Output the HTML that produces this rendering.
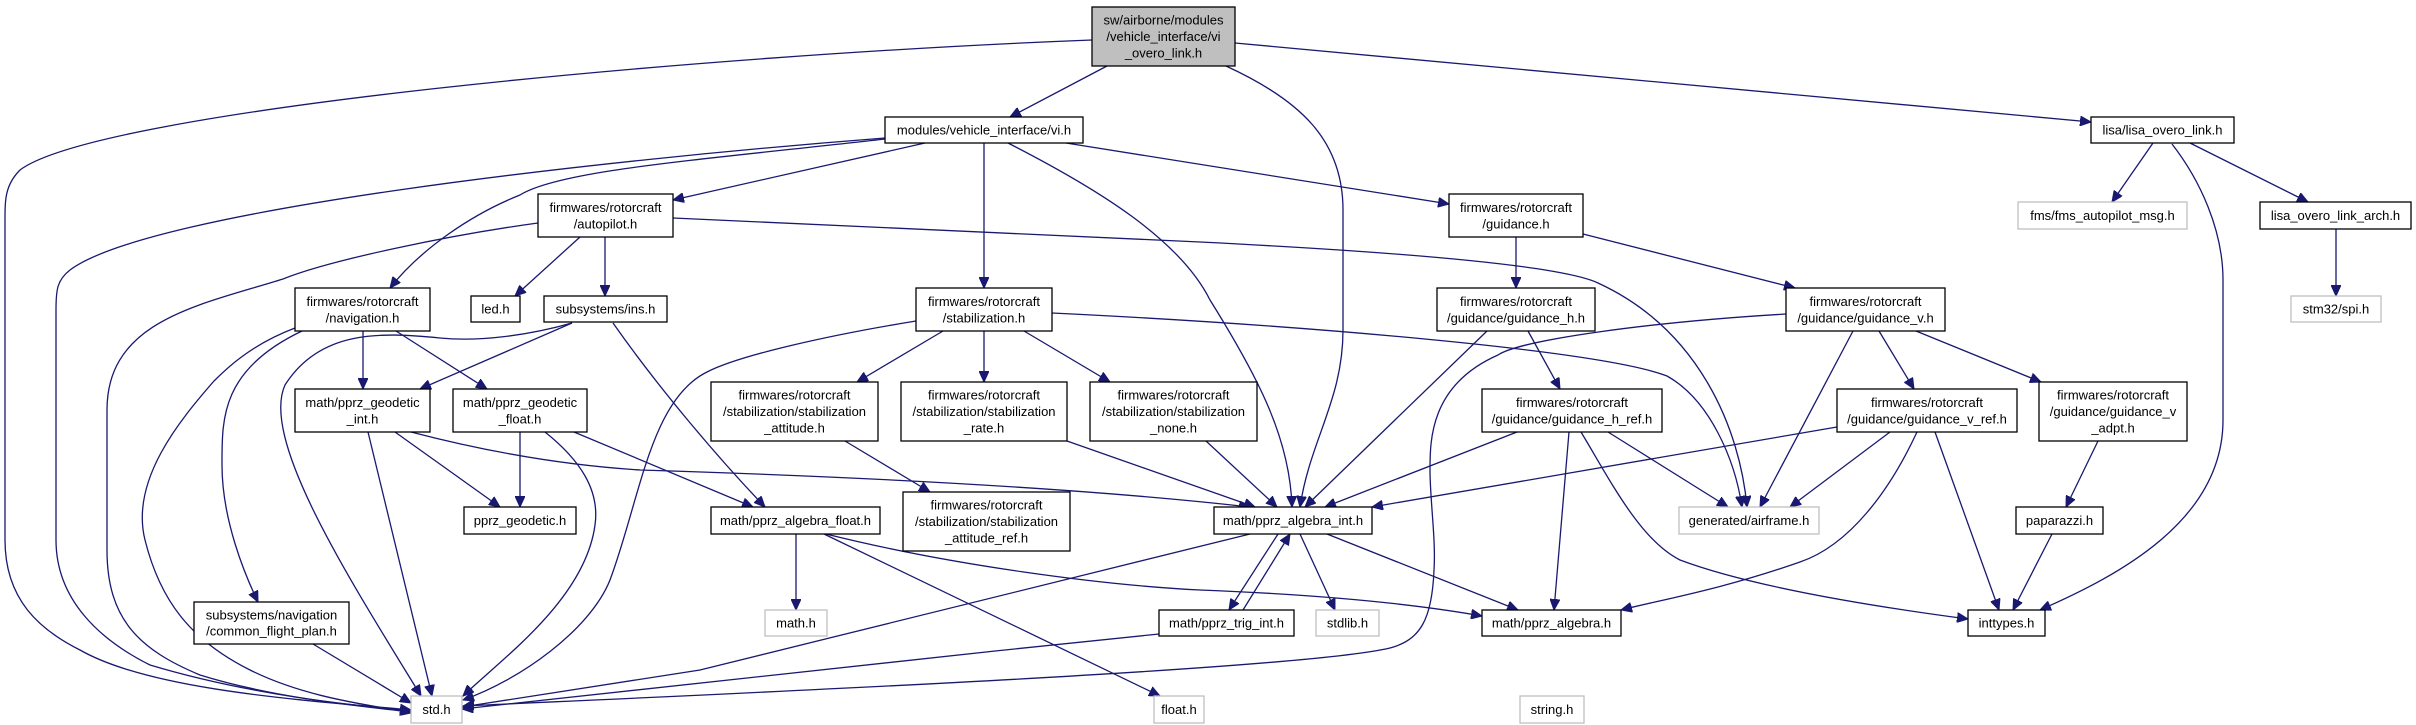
<!DOCTYPE html>
<html><head><meta charset="utf-8"><style>
html,body{margin:0;padding:0;background:#fff}
svg{display:block}
text{font-family:"Liberation Sans",sans-serif;font-size:13px;fill:#000;text-anchor:middle;dominant-baseline:central}
.e{fill:none;stroke:#191970;stroke-width:1.3}
.n{fill:#fff;stroke:#000;stroke-width:1.3}
.g{fill:#fff;stroke:#bfbfbf;stroke-width:1.3}
</style></head><body>
<svg width="2416" height="725" viewBox="0 0 2416 725" xmlns="http://www.w3.org/2000/svg">
<defs><marker id="a" markerUnits="userSpaceOnUse" markerWidth="12" markerHeight="10" refX="11" refY="5" orient="auto"><path d="M0,0 L11,5 L0,10 z" fill="#191970" stroke="#191970"/></marker></defs>
<g class="e" marker-end="url(#a)">
<path d="M1092,40 C700,55 100,110 20,170 C5,185 5,200 5,220 L5,540 C5,600 40,630 80,650 C150,690 300,700 411,710"/>
<path d="M1107,66 L1010,117"/>
<path d="M1226,66 C1300,100 1343,140 1343,210 L1343,330 C1343,400 1310,440 1300,507"/>
<path d="M1235,43 L2091,122"/>
<path d="M885,138 C600,160 150,210 70,270 C57,280 56,290 56,310 L56,540 C56,600 100,640 150,665 C250,695 350,705 411,711"/>
<path d="M885,139 C700,160 560,170 520,195 C470,215 420,250 390,288"/>
<path d="M925,143 L673,200"/>
<path d="M984,143 L984,288"/>
<path d="M1008,143 C1100,190 1180,240 1210,300 C1260,380 1290,440 1292,507"/>
<path d="M1066,143 L1449,204"/>
<path d="M538,223 C450,235 330,260 283,279 C200,305 107,320 107,410 L107,550 C107,620 140,650 200,675 C280,700 380,708 411,712"/>
<path d="M580,237 L515,296"/>
<path d="M605,237 L605,296"/>
<path d="M673,218 L1200,242 C1400,252 1560,265 1598,283 C1700,330 1740,430 1747,507"/>
<path d="M295,328 C250,345 225,370 214,381 C180,420 130,480 145,540 C160,600 190,640 250,670 C310,700 380,706 411,713"/>
<path d="M302,331 C220,370 222,420 222,465 C222,520 245,575 258,602"/>
<path d="M363,331 L363,389"/>
<path d="M396,331 L487,389"/>
<path d="M572,323 C530,335 480,342 440,338 C380,332 320,330 285,385 C260,440 350,580 421,696"/>
<path d="M572,323 L420,389"/>
<path d="M613,323 C660,390 720,460 765,507"/>
<path d="M368,432 L432,696"/>
<path d="M395,432 L500,507"/>
<path d="M411,432 C480,450 560,465 640,470 C900,478 1100,490 1250,507"/>
<path d="M520,432 L520,507"/>
<path d="M545,432 C580,460 600,490 595,525 C585,600 500,660 463,696"/>
<path d="M574,432 L753,507"/>
<path d="M313,644 L411,703"/>
<path d="M916,321 C830,335 740,355 707,372 C650,400 640,500 610,580 C590,630 520,680 463,700"/>
<path d="M943,331 L857,382"/>
<path d="M984,331 L984,382"/>
<path d="M1024,331 L1110,382"/>
<path d="M1052,313 C1300,325 1600,350 1667,376 C1710,400 1735,460 1742,507"/>
<path d="M845,441 L930,492"/>
<path d="M1067,441 L1255,507"/>
<path d="M1206,441 L1277,507"/>
<path d="M796,534 L796,610"/>
<path d="M824,534 L1160,696"/>
<path d="M826,534 C950,565 1100,585 1200,590 C1330,595 1420,605 1482,616"/>
<path d="M1250,534 C1100,570 900,620 700,670 L462,707"/>
<path d="M1278,534 L1229,610"/>
<path d="M1243,610 L1290,534"/>
<path d="M1300,534 L1335,610"/>
<path d="M1327,534 L1518,610"/>
<path d="M1159,634 C900,660 600,695 462,709"/>
<path d="M1516,237 L1516,288"/>
<path d="M1583,234 L1795,288"/>
<path d="M1487,331 L1305,507"/>
<path d="M1528,331 L1560,389"/>
<path d="M1517,432 L1325,507"/>
<path d="M1569,432 L1554,610"/>
<path d="M1608,432 L1728,507"/>
<path d="M1581,432 C1610,480 1640,540 1680,560 C1760,590 1900,610 1968,619"/>
<path d="M1786,314 C1650,322 1520,340 1498,355 C1430,385 1430,440 1430,470 C1430,500 1436,540 1434,570 C1432,620 1420,640 1390,648 C1300,670 700,695 463,706"/>
<path d="M1853,331 L1760,507"/>
<path d="M1879,331 L1914,389"/>
<path d="M1916,331 L2041,382"/>
<path d="M1837,427 L1372,507"/>
<path d="M1890,432 L1790,507"/>
<path d="M1917,432 C1890,490 1850,545 1800,562 C1720,590 1660,600 1621,610"/>
<path d="M1935,432 L1999,610"/>
<path d="M2098,441 L2066,507"/>
<path d="M2052,534 L2013,610"/>
<path d="M2153,143 L2112,202"/>
<path d="M2172,144 C2200,180 2223,230 2223,280 L2223,420 C2223,520 2120,575 2040,610"/>
<path d="M2190,143 L2308,202"/>
<path d="M2336,229 L2336,296"/>
</g>
<g>
<rect x="1092" y="7" width="143" height="59" fill="#bfbfbf" stroke="#000" stroke-width="1.3"/>
<text x="1163.5" y="20">sw/airborne/modules</text><text x="1163.5" y="36.5">/vehicle_interface/vi</text><text x="1163.5" y="53">_overo_link.h</text>
<rect class="n" x="885" y="117" width="198" height="26"/><text x="984" y="130">modules/vehicle_interface/vi.h</text>
<rect class="n" x="2091" y="117" width="143" height="26"/><text x="2162.5" y="130">lisa/lisa_overo_link.h</text>
<rect class="n" x="538" y="194" width="135" height="43"/><text x="605.5" y="207.5">firmwares/rotorcraft</text><text x="605.5" y="224">/autopilot.h</text>
<rect class="n" x="1449" y="194" width="134" height="43"/><text x="1516" y="207.5">firmwares/rotorcraft</text><text x="1516" y="224">/guidance.h</text>
<rect class="g" x="2018" y="202" width="169" height="27"/><text x="2102.5" y="215.5">fms/fms_autopilot_msg.h</text>
<rect class="n" x="2260" y="202" width="151" height="27"/><text x="2335.5" y="215.5">lisa_overo_link_arch.h</text>
<rect class="n" x="295" y="288" width="135" height="43"/><text x="362.5" y="301.5">firmwares/rotorcraft</text><text x="362.5" y="318">/navigation.h</text>
<rect class="n" x="471" y="296" width="49" height="26"/><text x="495.5" y="309">led.h</text>
<rect class="n" x="544" y="296" width="123" height="26"/><text x="605.5" y="309">subsystems/ins.h</text>
<rect class="n" x="916" y="288" width="136" height="43"/><text x="984" y="301.5">firmwares/rotorcraft</text><text x="984" y="318">/stabilization.h</text>
<rect class="n" x="1437" y="288" width="158" height="43"/><text x="1516" y="301.5">firmwares/rotorcraft</text><text x="1516" y="318">/guidance/guidance_h.h</text>
<rect class="n" x="1786" y="288" width="159" height="43"/><text x="1865.5" y="301.5">firmwares/rotorcraft</text><text x="1865.5" y="318">/guidance/guidance_v.h</text>
<rect class="g" x="2291" y="296" width="90" height="26"/><text x="2336" y="309">stm32/spi.h</text>
<rect class="n" x="295" y="389" width="135" height="43"/><text x="362.5" y="402.5">math/pprz_geodetic</text><text x="362.5" y="419">_int.h</text>
<rect class="n" x="453" y="389" width="134" height="43"/><text x="520" y="402.5">math/pprz_geodetic</text><text x="520" y="419">_float.h</text>
<rect class="n" x="711" y="382" width="167" height="59"/><text x="794.5" y="395">firmwares/rotorcraft</text><text x="794.5" y="411.5">/stabilization/stabilization</text><text x="794.5" y="428">_attitude.h</text>
<rect class="n" x="901" y="382" width="166" height="59"/><text x="984" y="395">firmwares/rotorcraft</text><text x="984" y="411.5">/stabilization/stabilization</text><text x="984" y="428">_rate.h</text>
<rect class="n" x="1090" y="382" width="167" height="59"/><text x="1173.5" y="395">firmwares/rotorcraft</text><text x="1173.5" y="411.5">/stabilization/stabilization</text><text x="1173.5" y="428">_none.h</text>
<rect class="n" x="1482" y="389" width="180" height="43"/><text x="1572" y="402.5">firmwares/rotorcraft</text><text x="1572" y="419">/guidance/guidance_h_ref.h</text>
<rect class="n" x="1837" y="389" width="180" height="43"/><text x="1927" y="402.5">firmwares/rotorcraft</text><text x="1927" y="419">/guidance/guidance_v_ref.h</text>
<rect class="n" x="2039" y="382" width="148" height="59"/><text x="2113" y="395">firmwares/rotorcraft</text><text x="2113" y="411.5">/guidance/guidance_v</text><text x="2113" y="428">_adpt.h</text>
<rect class="n" x="903" y="492" width="167" height="59"/><text x="986.5" y="505">firmwares/rotorcraft</text><text x="986.5" y="521.5">/stabilization/stabilization</text><text x="986.5" y="538">_attitude_ref.h</text>
<rect class="n" x="464" y="507" width="112" height="27"/><text x="520" y="520.5">pprz_geodetic.h</text>
<rect class="n" x="711" y="507" width="169" height="27"/><text x="795.5" y="520.5">math/pprz_algebra_float.h</text>
<rect class="n" x="1214" y="507" width="158" height="27"/><text x="1293" y="520.5">math/pprz_algebra_int.h</text>
<rect class="g" x="1679" y="507" width="140" height="27"/><text x="1749" y="520.5">generated/airframe.h</text>
<rect class="n" x="2016" y="507" width="87" height="27"/><text x="2059.5" y="520.5">paparazzi.h</text>
<rect class="n" x="194" y="602" width="155" height="42"/><text x="271.5" y="615">subsystems/navigation</text><text x="271.5" y="631">/common_flight_plan.h</text>
<rect class="g" x="765" y="610" width="62" height="26"/><text x="796" y="623">math.h</text>
<rect class="n" x="1159" y="610" width="135" height="26"/><text x="1226.5" y="623">math/pprz_trig_int.h</text>
<rect class="g" x="1316" y="610" width="63" height="26"/><text x="1347.5" y="623">stdlib.h</text>
<rect class="n" x="1482" y="610" width="139" height="26"/><text x="1551.5" y="623">math/pprz_algebra.h</text>
<rect class="n" x="1968" y="610" width="77" height="26"/><text x="2006.5" y="623">inttypes.h</text>
<rect class="g" x="411" y="696" width="51" height="27"/><text x="436.5" y="709.5">std.h</text>
<rect class="g" x="1154" y="696" width="50" height="27"/><text x="1179" y="709.5">float.h</text>
<rect class="g" x="1520" y="696" width="64" height="27"/><text x="1552" y="709.5">string.h</text>
</g>
</svg>
</body></html>
